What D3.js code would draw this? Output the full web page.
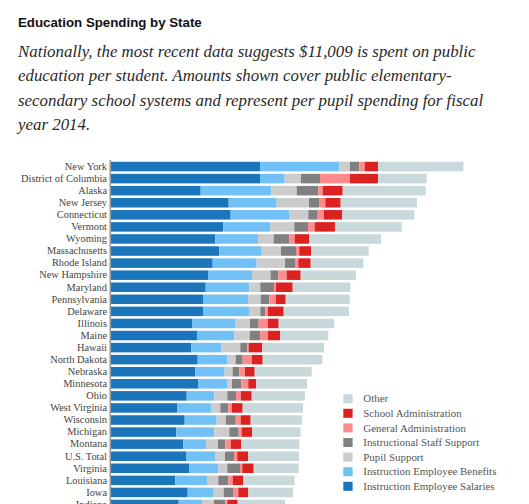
<!DOCTYPE html>
<html>
<head>
<meta charset="utf-8">
<script src="https://cdn.jsdelivr.net/npm/d3@7"></script>
<style>
  html, body { margin: 0; padding: 0; background: #fff; }
  svg { display: block; }
</style>
</head>
<body>
<svg id="chart" width="529" height="504"></svg>
<script>
// ---- data (per-pupil spending, US$, FY2014) ----
const states = ["New York","District of Columbia","Alaska","New Jersey","Connecticut","Vermont","Wyoming","Massachusetts","Rhode Island","New Hampshire","Maryland","Pennsylvania","Delaware","Illinois","Maine","Hawaii","North Dakota","Nebraska","Minnesota","Ohio","West Virginia","Wisconsin","Michigan","Montana","U.S. Total","Virginia","Louisiana","Iowa","Indiana"];
const salaries    = [8729,8729,5265,6901,7017,6585,6118,6351,5966,5691,5557,5399,5399,4756,5048,4715,5089,4949,5107,4447,3880,4330,3839,4248,4406,4598,3780,4505,3979];
const benefits    = [4634,1443,4125,2805,3406,2746,2495,2477,2571,2571,2548,2629,2729,2512,2179,1753,1712,1718,1694,1613,1987,1870,2220,1326,1694,1694,1852,1519,1361];
const pupilSupport= [625,952,1484,1887,1128,1402,917,1128,1654,1081,643,742,619,876,900,1110,508,467,292,760,543,526,876,701,584,526,660,584,701];
const staffSupport= [543,1110,1262,584,549,800,912,876,584,456,800,503,292,508,619,409,409,386,543,508,467,584,549,427,526,742,584,543,660];
const generalAdmin= [316,1753,257,368,368,391,316,193,193,491,117,374,158,526,450,82,526,333,409,292,216,292,175,316,193,134,257,310,117];
const schoolAdmin = [777,1636,1169,900,1069,1186,853,684,725,818,976,584,917,643,719,795,643,567,450,625,625,584,619,619,625,666,619,584,608];
const other       = [4984,2846,4850,4458,4207,3897,4189,3371,3073,3231,3366,3740,3816,3249,2805,3605,3482,3331,2980,3114,3523,2997,2828,3389,2980,2629,3003,2612,2764];

const seriesKeys  = ["salaries","benefits","pupilSupport","staffSupport","generalAdmin","schoolAdmin","other"];
const seriesNames = ["Instruction Employee Salaries","Instruction Employee Benefits","Pupil Support","Instructional Staff Support","General Administration","School Administration","Other"];
const seriesColors= ["#1a75bb","#72c1f6","#cccccc","#808080","#fe8c8c","#dc2121","#c9d8db"];

const title = "Education Spending by State";
const subtitleLines = [
  "Nationally, the most recent data suggests $11,009 is spent on public",
  "education per student. Amounts shown cover public elementary-",
  "secondary school systems and represent per pupil spending for fiscal",
  "year 2014."
];

// ---- build ----
const seriesData = {salaries, benefits, pupilSupport, staffSupport, generalAdmin, schoolAdmin, other};
const rows = states.map((s, i) => {
  const r = {state: s};
  seriesKeys.forEach(k => r[k] = seriesData[k][i]);
  return r;
});
const totals = rows.map(r => d3.sum(seriesKeys, k => r[k]));

const svg = d3.select("#chart");

function fitWidth(sel, target) {
  const w = sel.node().getComputedTextLength();
  const fs = parseFloat(sel.attr("font-size"));
  const nfs = fs * target / w;
  sel.attr("font-size", nfs);
  return nfs;
}

// title
const t = svg.append("text")
  .attr("x", 18).attr("y", 27)
  .attr("font-family", "'Liberation Sans', Arial, sans-serif")
  .attr("font-weight", "bold")
  .attr("font-size", 13)
  .attr("fill", "#111")
  .text(title);
fitWidth(t, 184);

// subtitle
const subG = svg.append("g");
const subTexts = subtitleLines.map((line, i) =>
  subG.append("text")
    .attr("x", 18).attr("y", 56.5 + i * 24.6)
    .attr("font-family", "'Liberation Serif', serif")
    .attr("font-style", "italic")
    .attr("font-size", 16)
    .attr("fill", "#2a2a2a")
    .text(line));
const subFs = fitWidth(subTexts[0], 458);
subTexts.forEach(s => s.attr("font-size", subFs));

// scales
const x = d3.scaleLinear().domain([0, d3.max(totals)]).range([110.6, 463.3]);
const y = d3.scaleBand().domain(states)
  .range([160.5, 160.5 + states.length * 12.07])
  .paddingInner(0.21).paddingOuter(0.105);

const stack = d3.stack().keys(seriesKeys)(rows);

svg.append("g").selectAll("g")
  .data(stack)
  .join("g")
  .attr("fill", (d, i) => seriesColors[i])
  .selectAll("rect")
  .data(d => d)
  .join("rect")
  .attr("x", d => x(d[0]))
  .attr("width", d => x(d[1]) - x(d[0]))
  .attr("y", d => y(d.data.state))
  .attr("height", y.bandwidth());

// y axis labels
const yAxis = d3.axisLeft(y).tickSize(0).tickPadding(3.5);
const ag = svg.append("g")
  .attr("transform", "translate(110.5,0)")
  .call(yAxis);
ag.select(".domain").remove();
ag.selectAll("text")
  .attr("font-family", "'Liberation Serif', serif")
  .attr("font-size", 10.4)
  .attr("fill", "#444");

// axis line
svg.append("line")
  .attr("x1", 110.3).attr("x2", 110.3)
  .attr("y1", 160).attr("y2", 504)
  .attr("stroke", "#999").attr("stroke-width", 1.6);

// legend
const legendOrder = d3.range(seriesKeys.length).reverse();
const lg = svg.append("g").attr("transform", "translate(343.3,398.7)");
const li = lg.selectAll("g").data(legendOrder).join("g")
  .attr("transform", (d, i) => `translate(0,${i * 14.6})`);
li.append("rect")
  .attr("x", 0).attr("y", -4.5).attr("width", 9.3).attr("height", 9)
  .attr("fill", d => seriesColors[d]);
li.append("text")
  .attr("x", 20).attr("y", 3.7)
  .attr("font-family", "'Liberation Serif', serif")
  .attr("font-size", 10.9)
  .attr("fill", "#555")
  .text(d => seriesNames[d]);
</script>
</body>
</html>
